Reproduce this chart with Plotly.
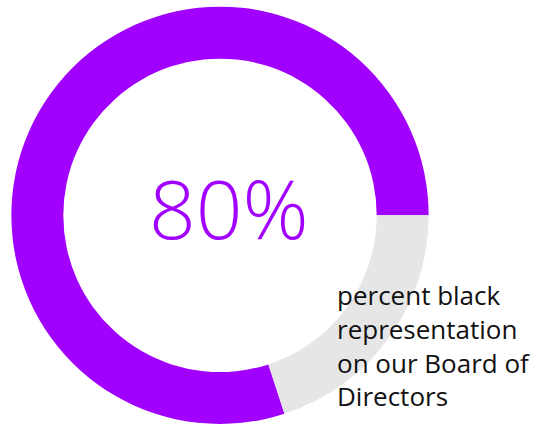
import plotly.graph_objects as go

# Board composition share
labels = ["Black representation", "Other"]
values = [80, 20]
colors = ["#A100FF", "#E6E6E6"]

headline = "80%"
caption_lines = ["percent black", "representation", "on our Board of", "Directors"]

W, H = 549, 424

# Plotly lays the first slice clockwise from `rotation`; start it so the
# remaining slice sits just below 3 o'clock.
rotation = 90 + 360 * values[1] / sum(values)

fig = go.Figure(
    go.Pie(
        labels=labels,
        values=values,
        hole=0.751,
        sort=False,
        direction="clockwise",
        rotation=rotation,
        marker=dict(colors=colors, line=dict(width=0)),
        textinfo="none",
        hoverinfo="skip",
        showlegend=False,
        domain=dict(x=[11 / W, 429 / W], y=[0, 417.3 / H]),
    )
)

# Big percentage in the middle of the ring
fig.add_annotation(
    text=headline,
    x=228.7 / W, y=1 - 207.5 / H,
    xref="paper", yref="paper",
    xanchor="center", yanchor="middle",
    showarrow=False,
    font=dict(family="Open Sans", size=82, color="#A100FF", weight=300),
)

# Caption text beside the ring
fig.add_annotation(
    text="<br>".join(caption_lines),
    x=335 / W, y=1 - 345 / H,
    xref="paper", yref="paper",
    xanchor="left", yanchor="middle",
    align="left",
    showarrow=False,
    font=dict(family="Open Sans", size=26, color="#111111", weight=400),
)

fig.update_layout(
    width=W, height=H,
    margin=dict(l=0, r=0, t=0, b=0),
    paper_bgcolor="white",
    plot_bgcolor="white",
)

fig.write_html("out.html")
